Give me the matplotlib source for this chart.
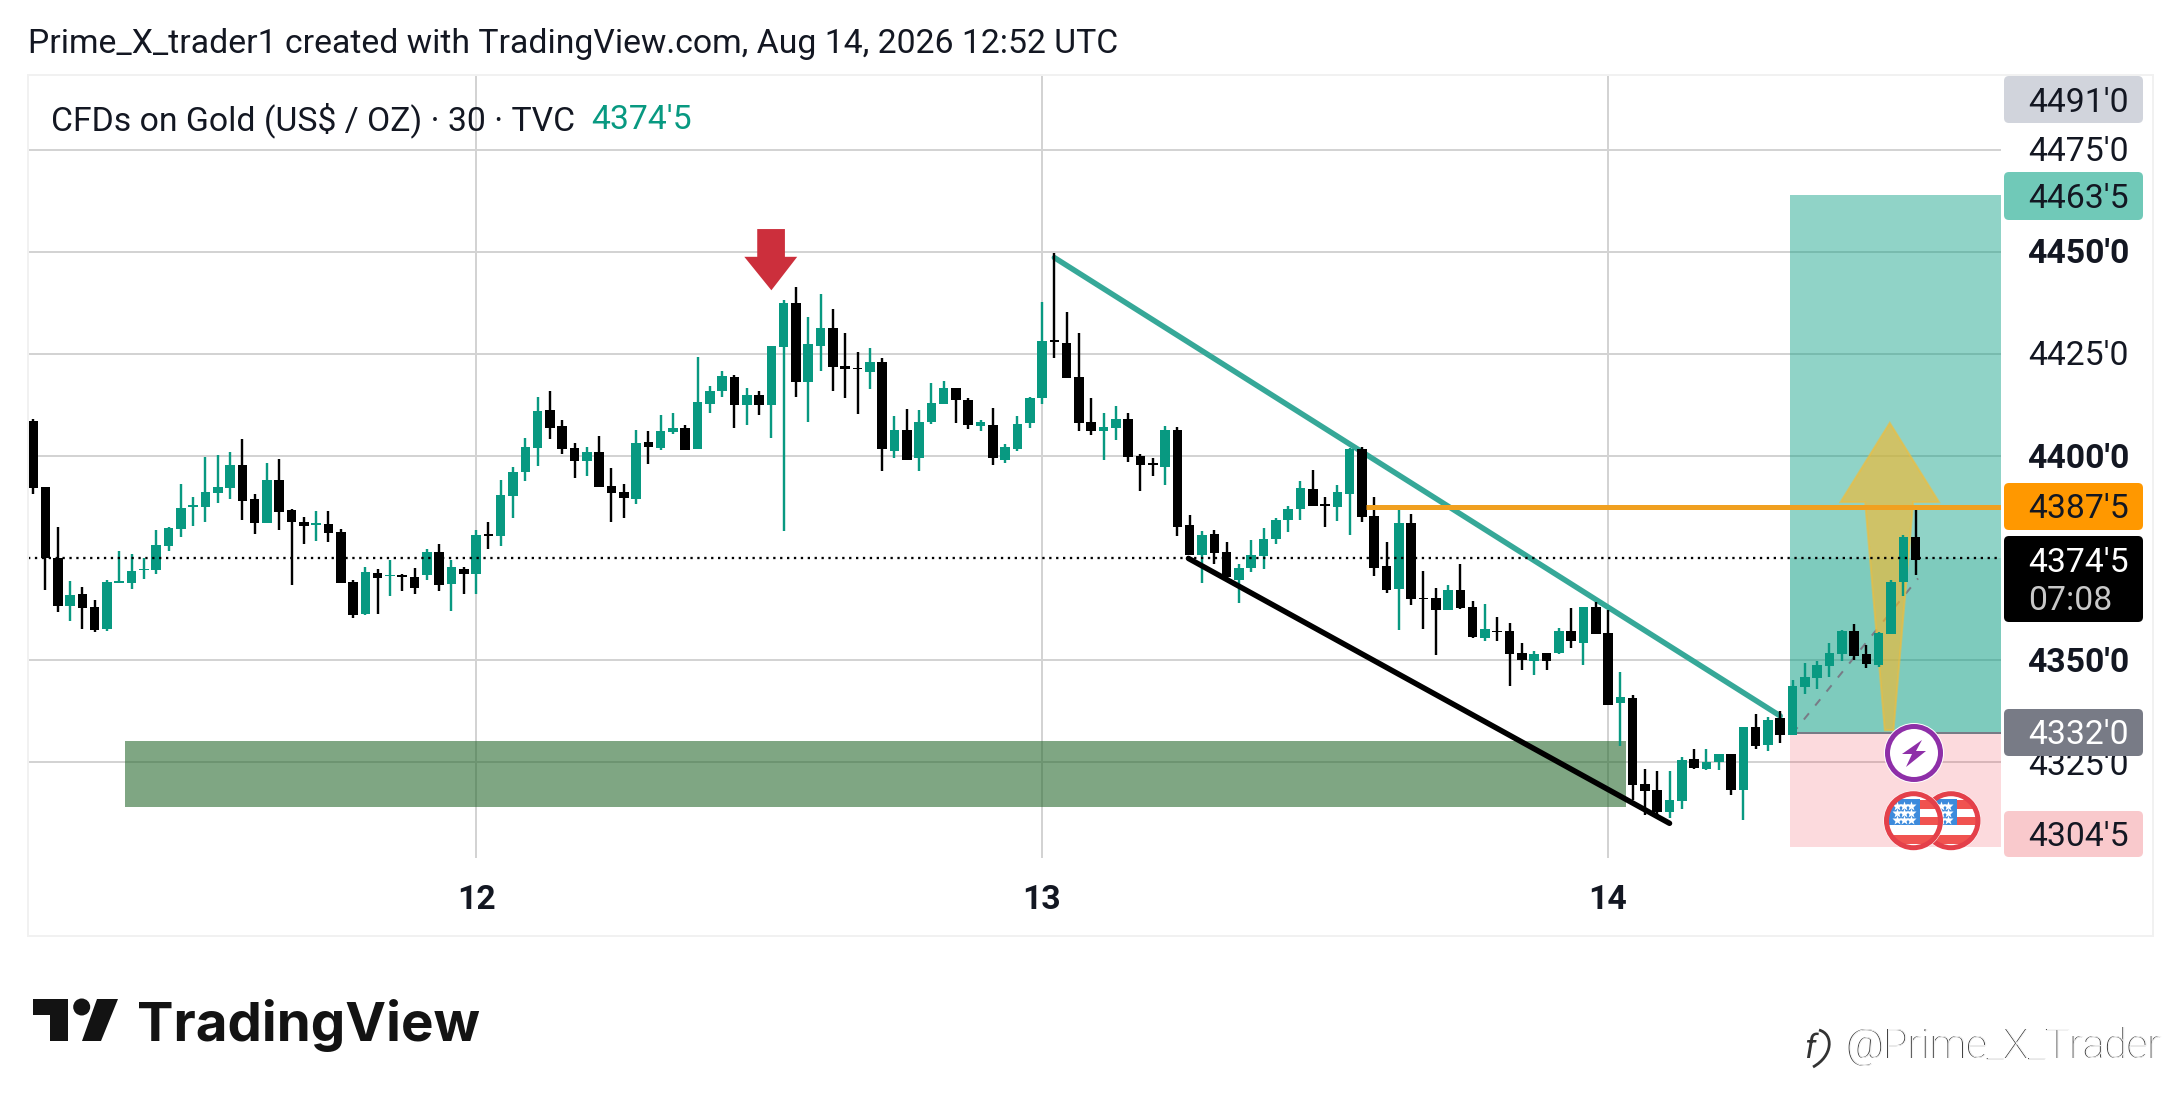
import matplotlib
matplotlib.use('Agg')
import matplotlib.pyplot as plt
from matplotlib.patches import Circle, FancyBboxPatch, PathPatch, Polygon, Rectangle
from matplotlib.path import Path

# Candles, one 30 min bar each
highs = [
    4409.0, 4392.4, 4382.6, 4369.3, 4367.8, 4364.8, 4369.7, 4376.6, 4375.9, 4374.9,
    4381.8, 4382.5, 4393.1, 4389.9, 4399.7, 4400.2, 4401.0, 4404.1, 4390.8, 4398.3,
    4399.2, 4387.1, 4385.0, 4386.5, 4386.5, 4382.0, 4369.5, 4372.8, 4372.3, 4374.6,
    4371.0, 4372.5, 4377.2, 4378.4, 4374.5, 4372.9, 4381.8, 4383.8, 4394.1, 4397.4,
    4404.5, 4414.4, 4415.9, 4408.7, 4403.2, 4402.1, 4404.9, 4397.0, 4393.1, 4406.3,
    4406.1, 4410.0, 4410.5, 4407.5, 4424.3, 4417.1, 4420.8, 4419.9, 4416.7, 4415.9,
    4427.0, 4438.2, 4441.4, 4434.1, 4439.7, 4436.0, 4430.2, 4425.5, 4426.5, 4423.9,
    4409.8, 4411.5, 4411.2, 4417.9, 4418.4, 4416.7, 4414.1, 4408.7, 4411.8, 4402.9,
    4409.8, 4414.4, 4437.8, 4449.8, 4435.3, 4430.2, 4414.2, 4410.5, 4412.3, 4410.5,
    4400.4, 4399.5, 4407.4, 4407.0, 4385.5, 4381.5, 4381.8, 4378.9, 4373.5, 4379.4,
    4382.3, 4384.7, 4387.7, 4393.8, 4396.5, 4389.9, 4392.9, 4401.9, 4402.2, 4389.9,
    4378.9, 4387.0, 4385.8, 4371.8, 4367.6, 4368.4, 4373.5, 4364.4, 4363.7, 4360.5,
    4359.0, 4354.1, 4352.2, 4351.7, 4357.8, 4362.7, 4363.0, 4364.2, 4362.2, 4347.0,
    4341.4, 4323.3, 4322.8, 4322.8, 4326.2, 4328.2, 4328.1, 4326.9, 4327.1, 4333.6,
    4336.7, 4336.0, 4337.4, 4345.2, 4349.2, 4349.7, 4354.1, 4357.3, 4358.8, 4353.7,
    4356.8, 4369.5, 4380.7, 4387.0,
]
body_tops = [
    4408.6, 4392.4, 4375.1, 4365.9, 4366.1, 4363.1, 4369.1, 4369.3, 4371.8, 4372.4,
    4378.2, 4382.4, 4387.2, 4387.9, 4391.1, 4392.4, 4397.8, 4397.8, 4389.4, 4394.1,
    4394.1, 4386.7, 4383.8, 4383.6, 4383.3, 4381.3, 4369.1, 4371.5, 4371.3, 4370.8,
    4370.8, 4370.3, 4376.4, 4376.4, 4372.8, 4372.3, 4380.6, 4380.9, 4390.4, 4396.1,
    4402.2, 4411.0, 4411.2, 4407.3, 4401.9, 4401.0, 4401.0, 4392.6, 4391.1, 4403.2,
    4403.4, 4406.1, 4406.8, 4406.8, 4413.2, 4415.9, 4419.7, 4419.4, 4415.0, 4415.0,
    4427.0, 4437.5, 4437.5, 4427.5, 4431.4, 4431.4, 4422.1, 4421.5, 4423.0, 4423.0,
    4406.4, 4406.4, 4408.3, 4413.0, 4416.7, 4416.7, 4413.7, 4408.3, 4407.6, 4402.2,
    4407.8, 4414.2, 4428.2, 4428.4, 4427.7, 4419.4, 4408.3, 4407.1, 4409.1, 4409.1,
    4400.1, 4398.3, 4406.4, 4406.3, 4383.1, 4380.6, 4380.9, 4376.4, 4372.5, 4375.7,
    4379.6, 4384.3, 4387.0, 4392.1, 4391.9, 4388.2, 4391.2, 4401.7, 4401.7, 4385.3,
    4373.0, 4383.6, 4383.6, 4365.3, 4365.2, 4367.1, 4367.1, 4363.0, 4357.6, 4357.2,
    4357.1, 4351.7, 4351.4, 4351.7, 4357.1, 4357.1, 4363.0, 4363.0, 4356.6, 4340.9,
    4340.7, 4319.6, 4318.1, 4315.7, 4325.5, 4325.7, 4325.1, 4326.9, 4326.9, 4333.6,
    4333.6, 4335.3, 4335.8, 4343.6, 4345.8, 4348.8, 4351.7, 4357.2, 4357.1, 4351.5,
    4356.6, 4369.1, 4380.1, 4380.1,
]
body_bottoms = [
    4392.2, 4375.1, 4363.2, 4363.2, 4362.8, 4357.4, 4357.7, 4368.8, 4369.0, 4372.1,
    4372.0, 4378.0, 4382.2, 4387.6, 4387.5, 4390.9, 4392.1, 4389.0, 4383.6, 4383.6,
    4386.3, 4383.9, 4382.9, 4383.2, 4381.1, 4368.9, 4361.0, 4361.2, 4370.1, 4370.5,
    4370.4, 4367.6, 4370.8, 4368.4, 4368.6, 4371.1, 4371.1, 4380.4, 4380.4, 4390.2,
    4396.1, 4402.0, 4406.9, 4401.7, 4398.8, 4398.8, 4392.5, 4390.9, 4389.7, 4389.4,
    4402.2, 4401.9, 4405.9, 4401.5, 4401.6, 4412.8, 4415.8, 4412.6, 4412.6, 4412.6,
    4412.6, 4426.6, 4418.2, 4418.2, 4427.0, 4421.9, 4421.2, 4421.2, 4420.6, 4401.6,
    4401.3, 4399.1, 4399.4, 4408.3, 4412.8, 4413.6, 4407.7, 4407.3, 4399.4, 4399.1,
    4401.8, 4408.2, 4414.2, 4427.9, 4419.2, 4408.2, 4406.2, 4406.2, 4406.9, 4399.8,
    4397.8, 4397.9, 4397.3, 4382.7, 4375.7, 4375.7, 4376.2, 4370.4, 4369.6, 4372.5,
    4375.5, 4379.6, 4384.3, 4387.0, 4387.7, 4387.7, 4387.5, 4390.7, 4385.0, 4372.5,
    4367.1, 4367.4, 4364.9, 4364.9, 4362.2, 4362.2, 4362.7, 4355.6, 4355.4, 4356.8,
    4351.4, 4350.0, 4349.7, 4349.7, 4351.7, 4354.6, 4354.1, 4356.3, 4338.9, 4339.4,
    4319.3, 4317.9, 4312.7, 4312.7, 4315.4, 4323.5, 4323.2, 4325.0, 4318.1, 4318.1,
    4328.9, 4329.1, 4331.6, 4331.6, 4343.4, 4345.7, 4348.5, 4351.5, 4351.0, 4349.0,
    4348.9, 4356.5, 4369.1, 4374.5,
]
lows = [
    4390.7, 4367.2, 4361.8, 4359.6, 4357.5, 4356.8, 4357.0, 4368.8, 4367.5, 4369.9,
    4371.1, 4376.8, 4380.2, 4382.9, 4383.9, 4388.5, 4389.5, 4384.4, 4380.9, 4383.6,
    4381.9, 4368.4, 4378.5, 4379.2, 4379.0, 4368.9, 4360.3, 4361.1, 4361.3, 4365.7,
    4367.0, 4366.2, 4369.7, 4367.0, 4362.1, 4366.2, 4366.2, 4377.3, 4378.0, 4384.9,
    4393.9, 4397.6, 4404.2, 4400.5, 4394.7, 4395.2, 4392.5, 4383.9, 4384.9, 4388.3,
    4398.1, 4401.4, 4405.4, 4401.5, 4401.6, 4410.6, 4414.5, 4406.9, 4407.7, 4410.1,
    4404.5, 4381.7, 4414.5, 4408.4, 4420.7, 4416.0, 4414.3, 4410.4, 4416.3, 4396.4,
    4399.4, 4398.9, 4396.4, 4407.9, 4412.8, 4408.2, 4406.5, 4406.2, 4397.9, 4398.4,
    4401.3, 4406.9, 4412.8, 4423.9, 4419.0, 4406.0, 4405.2, 4398.9, 4404.0, 4398.6,
    4391.5, 4395.2, 4393.0, 4380.5, 4375.7, 4368.8, 4373.5, 4369.6, 4363.9, 4371.5,
    4372.3, 4378.4, 4381.3, 4384.3, 4387.7, 4382.6, 4384.0, 4380.6, 4383.8, 4370.6,
    4366.4, 4357.3, 4363.5, 4357.6, 4351.2, 4362.2, 4362.5, 4355.4, 4354.6, 4354.6,
    4343.6, 4347.5, 4346.3, 4347.5, 4351.4, 4352.9, 4348.8, 4356.3, 4338.9, 4328.9,
    4315.7, 4312.0, 4311.2, 4311.3, 4313.5, 4323.3, 4323.0, 4323.0, 4316.9, 4310.8,
    4328.2, 4327.8, 4329.6, 4331.6, 4341.6, 4342.8, 4345.8, 4349.8, 4350.0, 4348.0,
    4348.3, 4356.5, 4365.7, 4370.8,
]
# g = close above open, k = close below open
bar_kinds = ('kkkgkkgggg' 'gggggggkkg' 'kkkgkkkgkg' 'kkgkgkgkgg' 'ggkkkgkkkg'
             'kggkgggkgk' 'ggkggkkkgk' 'gkgggkkgkg' 'gggkkkkggk' 'kkgkkgkkgg'
             'ggggkkggkk' 'kgkkkgkkgk' 'kkgkgkgkkg' 'kkkggkggkg' 'kgkggggg' 'kk'
             'gggk')

day_bars = [36, 82, 128]
day_labels = ['12', '13', '14']
grid_prices = [4475, 4450, 4425, 4400, 4350, 4325]

last_line_price = 4374.9
target_price = 4463.9
entry_price = 4332.2
stop_price = 4304.2
orange_level = 4387.6
position_bars = (142.8, 159.9)
demand_zone = (7.46, 129.5, 4314.0, 4330.1)

teal_line_bars, teal_line_prices = [83, 142], [4448.6, 4336.3]
black_line_bars, black_line_prices = [93.9, 133], [4374.9, 4310.0]
orange_start_bar = 108.3
path_bars, path_prices = [143, 153.2], [4332.0, 4370.0]

red_arrow_bars = [58.85, 61.1, 61.1, 62.1, 60.0, 57.8, 58.85]
red_arrow_prices = [4455.6, 4455.6, 4448.8, 4448.8, 4440.6, 4448.8, 4448.8]
yellow_arrow_bars = [150.9, 154.9, 152.8, 151.2, 150.5, 148.9, 146.9]
yellow_arrow_prices = [4408.1, 4388.7, 4388.7, 4332.8, 4332.8, 4388.7, 4388.7]

# text, price axis label pixel height, bold
axis_labels = [("4475'0", 152, 'normal'), ("4450'0", 254, 'bold'),
               ("4425'0", 356, 'normal'), ("4400'0", 459, 'bold'),
               ("4350'0", 663, 'bold'), ("4325'0", 766, 'normal')]
# text, box top, box bottom, box colour, text colour
axis_boxes = [("4491'0", 76, 123, '#d1d4dc', '#131722'),
              ("4463'5", 172, 220, '#70c9b8', '#131722'),
              ("4387'5", 483, 530, '#ff9800', '#131722'),
              ("4332'0", 709, 756, '#787b86', '#ffffff'),
              ("4304'5", 811, 857, '#f9c9cc', '#131722')]

GREEN = '#089981'
PANE_L, PANE_R, PANE_T, PANE_B = 28, 2000.5, 76, 858
W, H = 2181, 1106
PX = 0.72  # one pixel in points at dpi 100
FS = 24.3

plt.rcParams['font.family'] = ['Roboto', 'DejaVu Sans']
fig = plt.figure(figsize=(W / 100, H / 100), dpi=100, facecolor='white')

# Main pane: x in bars, y in price
ax = fig.add_axes([PANE_L / W, 1 - PANE_B / H, (PANE_R - PANE_L) / W, (PANE_B - PANE_T) / H])
ax.set_xlim(-0.42, 159.9)
ax.set_ylim(4301.5, 4493.1)
ax.axis('off')

for p in grid_prices:
    ax.axhline(p, color='#d3d3d3', lw=2 * PX, zorder=1)
for b in day_bars:
    ax.axvline(b, color='#d3d3d3', lw=2 * PX, zorder=1)

# Demand zone and the long position box
ax.add_patch(Rectangle((demand_zone[0], demand_zone[2]), demand_zone[1] - demand_zone[0],
                       demand_zone[3] - demand_zone[2], fc='#2a6b30', alpha=0.6, ec='none', zorder=2))
pos_w = position_bars[1] - position_bars[0]
ax.add_patch(Rectangle((position_bars[0], entry_price), pos_w, target_price - entry_price,
                       fc='#0a9f83', alpha=0.45, ec='none', zorder=2))
ax.add_patch(Rectangle((position_bars[0], entry_price), pos_w, last_line_price - entry_price,
                       fc=GREEN, alpha=0.13, ec='none', zorder=2))
ax.add_patch(Rectangle((position_bars[0], stop_price), pos_w, entry_price - stop_price,
                       fc='#f23645', alpha=0.18, ec='none', zorder=2))
ax.plot(position_bars, [entry_price, entry_price], color='#787b86', lw=2 * PX, zorder=3)
ax.plot(path_bars, path_prices, color='#787b86', lw=2 * PX, ls=(0, (4, 5)), zorder=3)

ax.add_patch(Polygon(list(zip(yellow_arrow_bars, yellow_arrow_prices)), closed=True,
                     fc='#f7b92c', ec='#f2bd3a', lw=1.5, alpha=0.62, zorder=3))

# Candles
for i, kind in enumerate(bar_kinds):
    c = GREEN if kind == 'g' else '#000000'
    ax.vlines(i, lows[i], highs[i], color=c, lw=2.4 * PX, zorder=5)
    ax.bar(i, body_tops[i] - body_bottoms[i], bottom=body_bottoms[i], width=0.78,
           color=c, linewidth=0, zorder=5)

ax.plot(teal_line_bars, teal_line_prices, color='#36a898', lw=5.5 * PX, zorder=4,
        solid_capstyle='round')
ax.plot(black_line_bars, black_line_prices, color='#000000', lw=5.5 * PX, zorder=6,
        solid_capstyle='round')
ax.plot([orange_start_bar, position_bars[1]], [orange_level, orange_level], color='#f0a020',
        lw=5 * PX, zorder=6, solid_capstyle='butt')
ax.plot([-0.42, position_bars[1]], [last_line_price, last_line_price], color='#000000', lw=2.3 * PX,
        ls=(0, (1, 2)), zorder=6)
ax.add_patch(Polygon(list(zip(red_arrow_bars, red_arrow_prices)), closed=True,
                     fc='#cc2f3c', ec='none', zorder=7))

# Everything around the pane goes on a pixel overlay
ov = fig.add_axes([0, 0, 1, 1], facecolor='none')
ov.set_xlim(0, W)
ov.set_ylim(H, 0)
ov.axis('off')

ov.add_patch(Rectangle((28, 75), 2153 - 28, 936 - 75, fc='none', ec='#f1f1f1', lw=2 * PX))

ov.text(28, 44, 'Prime_X_trader1 created with TradingView.com, Aug 14, 2026 12:52 UTC',
        fontsize=FS, color='#131722', va='center', ha='left')
ov.text(51, 120, 'CFDs on Gold (US$ / OZ) · 30 · TVC', fontsize=FS, color='#131722',
        va='center', ha='left')
ov.text(591, 120, "4374'5", fontsize=FS, color=GREEN, va='center', ha='left')

# Price axis
LABEL_X = 2129
for txt, y, weight in axis_labels:
    ov.text(LABEL_X, y, txt, fontsize=FS, color='#131722', ha='right', va='center',
            fontweight=weight, zorder=2)


def label_box(y0, y1, color):
    ov.add_patch(FancyBboxPatch((2004, y0), 139, y1 - y0, boxstyle='round,pad=0,rounding_size=5',
                                fc=color, ec='none', zorder=3))


for txt, y0, y1, box_c, txt_c in axis_boxes:
    label_box(y0, y1, box_c)
    ov.text(LABEL_X, (y0 + y1) / 2 + 3, txt, fontsize=FS, color=txt_c, ha='right', va='center', zorder=4)
label_box(536, 622, '#000000')
ov.text(LABEL_X, 563, "4374'5", fontsize=FS, color='white', ha='right', va='center', zorder=4)
ov.text(2028, 601, '07:08', fontsize=FS, color='#c8c8c8', ha='left', va='center', zorder=4)

# Time axis
for b, txt in zip(day_bars, day_labels):
    ov.text(33.2 + 12.3 * b, 900, txt, fontsize=FS, fontweight='bold', color='#131722',
            ha='center', va='center')

# Event icons
ov.add_patch(Circle((1914, 753), 30, fc='white', ec='none', zorder=8))
ov.add_patch(Circle((1914, 753), 26.5, fc='white', ec='#8e2fa8', lw=5 * PX, zorder=8))
bolt = [(8, -13), (-12, 1), (-2, 1), (-8, 14), (12, -2), (2, -2)]
ov.add_patch(Polygon([(1914 + a, 753 + b) for a, b in bolt], fc='#8e2fa8', ec='none', zorder=9))


def flag(cx, cy, z):
    ov.add_patch(Circle((cx, cy), 30, fc='white', ec='none', zorder=z))
    clip = Circle((cx, cy), 27, transform=ov.transData)
    for y0, y1 in [(-21, -12), (-4, 4), (14, 23)]:
        ov.add_patch(Rectangle((cx - 27, cy + y0), 54, y1 - y0, fc='#f05350', ec='none',
                               zorder=z, clip_path=clip))
    ov.add_patch(Rectangle((cx - 27, cy - 22), 33, 26, fc='#3d8bdc', ec='none', zorder=z,
                           clip_path=clip))
    for row in (-15, -8, -1):
        for col in (-17, -10, -3):
            ov.plot(cx + col, cy + row, marker='*', ms=7, mfc='white', mec='none', zorder=z + 0.5)
    ov.add_patch(Circle((cx, cy), 27, fc='none', ec='#e4404a', lw=5 * PX, zorder=z + 0.5))


flag(1951, 820.7, 8)
flag(1913.5, 820.7, 9)

# TradingView logo
ov.add_patch(Polygon([(33, 999), (68, 999), (68, 1041), (50, 1041), (50, 1015), (33, 1015)],
                     fc='#131313', ec='none'))
ov.add_patch(Circle((81.7, 1007), 8.5, fc='#131313', ec='none'))
ov.add_patch(Polygon([(97, 999), (118, 999), (101, 1041), (82, 1041)], fc='#131313', ec='none'))
ov.text(137, 1041, 'TradingView', family='Inter', fontweight='bold', fontsize=39.4, color='#131313',
        ha='left', va='baseline')

# Watermark, dark text with a white copy on top gives the embossed look
ov.text(1845, 1058, '@Prime_X_Trader', family='Roboto', fontweight='light', fontsize=29.3,
        color='#444444', ha='left', va='baseline')
ov.text(1846.2, 1058, '@Prime_X_Trader', family='Roboto', fontweight='light', fontsize=29.3,
        color='#f4f4f4', ha='left', va='baseline')
ov.text(1804, 1058, 'f', family='Roboto', fontsize=24, style='italic', color='#333333',
        ha='left', va='baseline')
bubble = Path([(1819, 1030), (1834, 1034), (1833, 1056), (1813, 1067)],
              [Path.MOVETO, Path.CURVE4, Path.CURVE4, Path.CURVE4])
ov.add_patch(PathPatch(bubble, fc='none', ec='#333333', lw=2))

fig.savefig('out.png', dpi=100)
